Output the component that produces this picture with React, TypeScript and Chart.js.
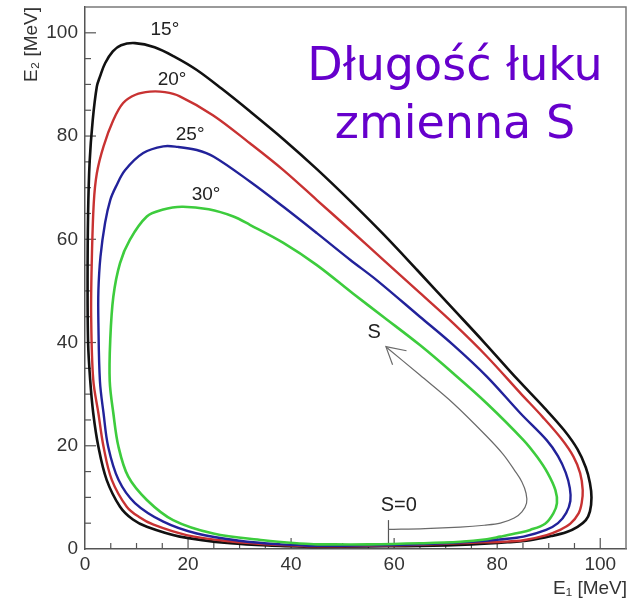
import React, { useEffect, useRef } from "react";
import { Chart, registerables } from "chart.js";

Chart.register(...registerables);

// ---- Kinematic curves E2 vs E1 [MeV] for detector angles ----
const E1_15 = [45, 55, 65, 75, 82, 86.4, 90.5, 93.5, 95.6, 97.2, 98.0, 98.3, 98.0, 97.2, 95.6, 93.0, 89.2, 84.0, 77.5, 71.0, 64.5, 58.0, 51.5, 45.0, 38.5, 32.0, 26.5, 21.7, 17.5, 13.5, 9.7, 7.0, 5.4, 3.9, 2.9, 2.3, 1.5, 0.9, 0.6, 0.5, 0.6, 1.0, 1.6, 2.6, 4.2, 6.8, 9.3, 12.0, 18.4, 28.2, 37.9, 45];
const E2_15 = [0.4, 0.5, 0.6, 0.9, 1.3, 1.7, 2.5, 3.3, 4.3, 5.6, 7.3, 10.0, 12.8, 15.8, 19.3, 23.0, 27.3, 32.8, 40.0, 47.0, 54.0, 60.9, 67.4, 73.6, 79.4, 84.8, 89.2, 92.8, 95.3, 97.2, 98.0, 97.6, 96.4, 94.1, 91.5, 89.6, 83.1, 75, 65, 52, 40, 32.8, 26.3, 19.8, 13.4, 8.2, 5.7, 4.3, 2.4, 1.1, 0.6, 0.4];

const E1_20 = [45, 55, 65, 75, 81, 85.1, 89.6, 92.2, 94.2, 95.8, 96.4, 96.6, 96.1, 94.8, 92.5, 88.8, 84.5, 78.0, 71.5, 65.0, 57.9, 51.5, 45.0, 38.5, 32.0, 24.9, 18.4, 15.5, 12.6, 9.8, 7.4, 5.5, 3.6, 2.3, 1.7, 1.3, 1.2, 1.6, 2.6, 3.6, 5.2, 8.1, 10.5, 13.3, 19.7, 28, 37, 45];
const E2_20 = [0.5, 0.6, 0.8, 1.2, 1.4, 1.7, 2.7, 3.7, 4.9, 6.9, 8.9, 11.4, 14.7, 17.9, 21.3, 25.6, 30.2, 37.3, 43.7, 49.6, 56.0, 61.8, 67.6, 73.4, 78.6, 84.0, 87.7, 88.5, 88.6, 88.0, 86.4, 83.1, 78.0, 72.8, 67, 55, 45, 32.8, 26.3, 19.8, 13.4, 8.2, 6.2, 4.7, 2.7, 1.5, 0.8, 0.5];

const E1_25 = [45, 55, 65, 75, 81, 85.1, 89.5, 91.8, 93.4, 94.2, 94.1, 93.3, 91.8, 89.6, 84.5, 78.0, 71.5, 65.0, 56.6, 51.5, 45.0, 38.5, 32.0, 25.0, 21.7, 18.0, 15.2, 11.3, 7.8, 6.0, 4.9, 3.9, 3.0, 2.6, 2.6, 2.9, 3.6, 4.5, 6.5, 9.7, 15.2, 21.7, 30, 38, 45];
const E2_25 = [0.6, 0.7, 0.9, 1.4, 1.9, 2.4, 3.7, 5.0, 7.0, 9.3, 11.8, 14.8, 18.0, 21.1, 26.3, 33.4, 39.5, 45.0, 52.1, 56.0, 61.2, 66.3, 71.2, 76.0, 77.3, 77.9, 78.0, 76.7, 73.4, 70.2, 67.6, 63.2, 56.6, 50, 43.8, 32.5, 26.3, 19.8, 13.4, 8.9, 5.3, 3.0, 1.6, 0.9, 0.6];

const E1_30 = [45, 55, 65, 72.8, 78, 80.6, 84, 86.4, 89.3, 90.9, 91.6, 91.3, 89.8, 87.7, 85.1, 78.0, 71.5, 65.0, 58.0, 52.0, 45.0, 38.5, 32.0, 28.8, 24.0, 18.8, 15.0, 12.0, 8.7, 6.8, 5.5, 4.9, 4.8, 5.5, 6.5, 8.4, 12.0, 17.1, 24.9, 34.6, 41.1, 45];
const E2_30 = [0.9, 0.9, 1.1, 1.4, 1.9, 2.4, 3.1, 3.7, 4.9, 6.9, 8.9, 11.4, 14.7, 17.9, 21.1, 28.2, 34.0, 39.5, 44.9, 49.5, 55.0, 59.3, 62.8, 64.4, 65.8, 66.3, 65.7, 64.4, 59.9, 55.4, 48.9, 40.5, 32.5, 26.3, 19.8, 14.0, 9.5, 5.6, 3.0, 1.7, 1.1, 0.9];

// arc length S path (thin gray), arrow head and S=0 marker
const E1_S = [58.9, 66, 72.8, 77.5, 80.6, 83.3, 84.8, 85.7, 85.6, 84.8, 83.4, 81.2, 78.0, 71.5, 65.0, 58.5];
const E2_S = [3.8, 3.95, 4.25, 4.6, 5.0, 6.0, 7.2, 8.9, 10.8, 13.0, 15.2, 18.3, 21.8, 28.2, 33.7, 39.1];
const E1_ARROW = [62.4, 58.4, 59.7];
const E2_ARROW = [38.4, 39.2, 35.7];
const E1_S0 = [58.9, 58.9];
const E2_S0 = [0, 5.6];

const ANGLE_LABELS = ["15°", "20°", "25°", "30°"];
const ANGLE_LABEL_X = [15.5, 16.9, 20.4, 23.5];
const ANGLE_LABEL_Y = [100.6, 90.9, 80.2, 68.6];
const S_LABELS = ["S", "S=0"];
const S_LABEL_X = [56.1, 60.9];
const S_LABEL_Y = [41.9, 8.4];

const TITLE_LINES = ["Długość łuku", "zmienna S"];
const TITLE_X = 71.8;
const TITLE_Y = [90.9, 79.7];

const X_TICKS = [0, 20, 40, 60, 80, 100];
const Y_TICKS = [0, 20, 40, 60, 80, 100];
const AXIS_MAX = 105;
const X_TITLE = "E₁ [MeV]";
const Y_TITLE = "E₂ [MeV]";

const FONT = "'Liberation Sans', Arial, Helvetica, sans-serif";

const pts = (xs: number[], ys: number[]) => xs.map((x, i) => ({ x, y: ys[i] }));

export default function App() {
  const ref = useRef<HTMLCanvasElement>(null);

  useEffect(() => {
    const canvas = ref.current;
    if (!canvas) return;

    const overlay = {
      id: "overlay",
      beforeDatasetsDraw(chart: any) {
        const { ctx, chartArea: a, scales } = chart;
        const xs = scales.x;
        const ys = scales.y;
        ctx.save();
        ctx.strokeStyle = "#7a7a7a";
        ctx.lineWidth = 1.5;
        ctx.beginPath();
        ctx.moveTo(a.left, a.top);
        ctx.lineTo(a.right, a.top);
        ctx.lineTo(a.right, a.bottom);
        ctx.stroke();
        ctx.strokeStyle = "#555";
        ctx.lineWidth = 1.2;
        for (let v = 5; v <= 100; v += 5) {
          const len = v % 20 === 0 ? 11 : 6;
          const px = xs.getPixelForValue(v);
          ctx.beginPath();
          ctx.moveTo(px, a.bottom);
          ctx.lineTo(px, a.bottom - len);
          ctx.stroke();
          const py = ys.getPixelForValue(v);
          ctx.beginPath();
          ctx.moveTo(a.left, py);
          ctx.lineTo(a.left + len, py);
          ctx.stroke();
        }
        ctx.restore();
      },
      afterDraw(chart: any) {
        const { ctx, chartArea: a, scales } = chart;
        const xs = scales.x;
        const ys = scales.y;
        ctx.save();
        // title inside plot
        ctx.fillStyle = "#6600CC";
        ctx.font = "46px 'DejaVu Sans', Verdana, sans-serif";
        ctx.textAlign = "center";
        ctx.textBaseline = "alphabetic";
        TITLE_LINES.forEach((t, i) => {
          ctx.fillText(t, xs.getPixelForValue(TITLE_X), ys.getPixelForValue(TITLE_Y[i]));
        });
        // angle labels
        ctx.fillStyle = "#222";
        ctx.font = `19px ${FONT}`;
        ctx.textBaseline = "middle";
        ANGLE_LABELS.forEach((t, i) => {
          ctx.fillText(t, xs.getPixelForValue(ANGLE_LABEL_X[i]), ys.getPixelForValue(ANGLE_LABEL_Y[i]));
        });
        ctx.font = `20px ${FONT}`;
        S_LABELS.forEach((t, i) => {
          ctx.fillText(t, xs.getPixelForValue(S_LABEL_X[i]), ys.getPixelForValue(S_LABEL_Y[i]));
        });
        // axis titles
        ctx.fillStyle = "#333";
        ctx.font = `19px ${FONT}`;
        ctx.textBaseline = "alphabetic";
        ctx.textAlign = "right";
        ctx.fillText(X_TITLE, a.right + 1, a.bottom + 45);
        ctx.translate(a.left - 48, a.top);
        ctx.rotate(-Math.PI / 2);
        ctx.fillText(Y_TITLE, 0, 0);
        ctx.restore();
      },
    };

    const curve = (xs: number[], ys: number[], color: string, width: number, tension = 0.35) => ({
      data: pts(xs, ys),
      showLine: true,
      borderColor: color,
      backgroundColor: color,
      borderWidth: width,
      pointRadius: 0,
      tension,
      fill: false,
    });

    const chart = new Chart(canvas, {
      type: "scatter",
      data: {
        datasets: [
          curve(E1_30, E2_30, "#3dcc3d", 2.6),
          curve(E1_25, E2_25, "#22229a", 2.4),
          curve(E1_20, E2_20, "#c83232", 2.4),
          curve(E1_15, E2_15, "#111111", 2.6),
          curve(E1_S, E2_S, "#6a6a6a", 1.2),
          curve(E1_ARROW, E2_ARROW, "#6a6a6a", 1.2, 0),
          curve(E1_S0, E2_S0, "#555555", 1.2, 0),
        ] as any,
      },
      options: {
        animation: false,
        responsive: false,
        devicePixelRatio: 1,
        layout: { padding: { top: 7, right: 8, left: 0, bottom: 0 } },
        plugins: { legend: { display: false }, tooltip: { enabled: false } },
        scales: {
          x: {
            type: "linear",
            min: 0,
            max: AXIS_MAX,
            grid: { display: false, drawTicks: false },
            border: { color: "#555", width: 1.5 },
            ticks: { font: { family: FONT, size: 19 }, color: "#333", padding: 4, maxRotation: 0 },
            afterBuildTicks: (s: any) => {
              s.ticks = X_TICKS.map((v) => ({ value: v }));
            },
            afterFit: (s: any) => {
              s.height = 53;
              s.paddingLeft = 0;
              s.paddingRight = 0;
              s.paddingTop = 0;
              s.paddingBottom = 0;
            },
          },
          y: {
            type: "linear",
            min: 0,
            max: AXIS_MAX,
            grid: { display: false, drawTicks: false },
            border: { color: "#555", width: 1.5 },
            ticks: { font: { family: FONT, size: 19 }, color: "#333", padding: 7 },
            afterBuildTicks: (s: any) => {
              s.ticks = Y_TICKS.map((v) => ({ value: v }));
            },
            afterFit: (s: any) => {
              s.width = 85;
              s.paddingLeft = 0;
              s.paddingRight = 0;
              s.paddingTop = 0;
              s.paddingBottom = 0;
            },
          },
        },
      } as any,
      plugins: [overlay],
    });

    return () => chart.destroy();
  }, []);

  return (
    <div style={{ position: "absolute", left: 0, top: 0, width: 634, height: 602, background: "#fff" }}>
      <canvas ref={ref} width={634} height={602} style={{ display: "block" }} />
    </div>
  );
}
